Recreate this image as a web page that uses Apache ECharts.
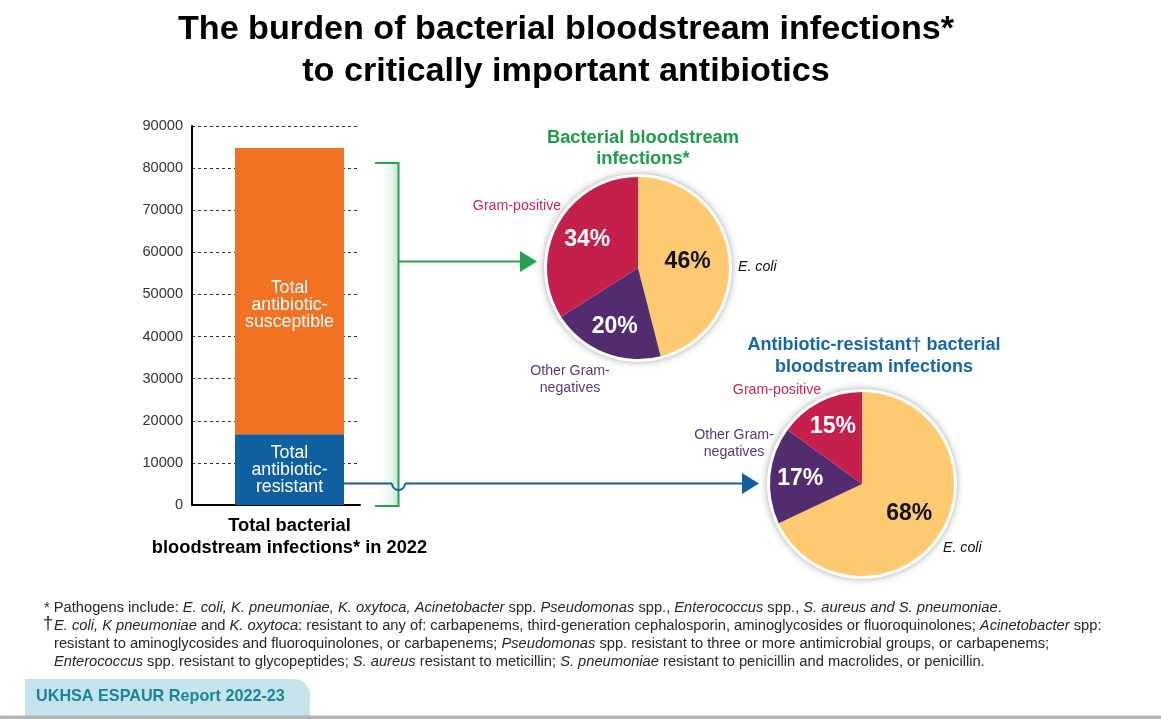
<!DOCTYPE html>
<html>
<head>
<meta charset="utf-8">
<script src="https://cdn.jsdelivr.net/npm/echarts@6/dist/echarts.min.js"></script>
<style>
html,body{margin:0;padding:0;background:#fff;}
#chart{width:1161px;height:719px;}
</style>
</head>
<body>
<div id="chart"></div>
<script>
// ---- data ----
const categories = ['Total bacterial\nbloodstream infections* in 2022'];
const resistantCount = [16800];
const susceptibleCount = [68000];
const barLabels = ['Total\nantibiotic-\nresistant', 'Total\nantibiotic-\nsusceptible'];
const yMin = 0, yMax = 90000, yStep = 10000;
const pieNames = ['E. coli', 'Other Gram-negatives', 'Gram-positive'];
const allBsiPct = [46, 20, 34];
const resistantBsiPct = [68, 17, 15];
const titleMain = 'The burden of bacterial bloodstream infections*\nto critically important antibiotics';
const titlePie1 = 'Bacterial bloodstream\ninfections*';
const titlePie2 = 'Antibiotic-resistant\u2020 bacterial\nbloodstream infections';

// ---- style ----
const FONT = "'Liberation Sans', Arial, Helvetica, sans-serif";
const C = {orange:'#F07222', blue:'#0F5FA1', yellow:'#FDC971', crimson:'#C51F4B', purple:'#522C6F',
  green:'#25A152', greenTitle:'#1E9B4B', blueTitle:'#1766A8', gpText:'#C8264F', ogText:'#5A3878'};
const sliceColors = [C.yellow, C.purple, C.crimson];
const pctColors = ['#111', '#fff', '#fff'];
const pie1 = {cx:638, cy:268, r:91, labelR:[47, 60, 55]};
const pie2 = {cx:862, cy:484, r:92, labelR:[53, 59, 61]};

const chart = echarts.init(document.getElementById('chart'), null, {renderer:'canvas'});

function midAngles(vals){
  const tot = vals.reduce((a,b)=>a+b,0); let acc = 0;
  return vals.map(v => { const m = (acc + v/2)/tot*2*Math.PI; acc += v; return m; });
}
function pieSeries(pie, vals){
  const mids = midAngles(vals);
  return [
    {type:'pie', silent:true, center:[pie.cx,pie.cy], radius:[0,pie.r+3], z:1,
     label:{show:false}, labelLine:{show:false},
     itemStyle:{color:'#fff', shadowBlur:7, shadowColor:'rgba(0,0,0,0.35)'},
     data:[{value:1, name:'bg'}]},
    {type:'pie', silent:true, center:[pie.cx,pie.cy], radius:[0,pie.r], startAngle:90, clockwise:true, z:2,
     labelLine:{show:false},
     label:{show:true, position:'inside', fontFamily:FONT, fontSize:23, fontWeight:'bold',
            formatter: p => p.value + '%'},
     labelLayout: p => {
       const i = p.dataIndex, d = pie.labelR[i] - pie.r/2;
       return {dx: d*Math.sin(mids[i]), dy: -d*Math.cos(mids[i])};
     },
     data: vals.map((v,i)=>({value:v, name:pieNames[i], itemStyle:{color:sliceColors[i]},
        label:{color:pctColors[i]}}))}
  ];
}

const FN_SIZE = 14.7;
function fn(x, y, text, extra){
  return {type:'text', x:x, y:y, style:Object.assign({text:text, fontFamily:FONT, fontSize:FN_SIZE, fill:'#262626',
    verticalAlign:'middle', rich:{i:{fontStyle:'italic', fontFamily:FONT, fontSize:FN_SIZE, fill:'#262626'}}}, extra||{})};
}
function txt(x, y, text, opts){
  return {type:'text', x:x, y:y, style:Object.assign({text:text, fontFamily:FONT, fontSize:14.2,
    align:'center', verticalAlign:'middle', lineHeight:17}, opts||{})};
}

const option = {
  backgroundColor:'#fff',
  animation:false,
  title:[
    {text:titlePie1, left:638, top:122, textAlign:'center',
     textStyle:{fontFamily:FONT, fontSize:18.3, fontWeight:'bold', color:C.greenTitle, lineHeight:21}},
    {text:titlePie2, left:869, top:329, textAlign:'center',
     textStyle:{fontFamily:FONT, fontSize:18, fontWeight:'bold', color:C.blueTitle, lineHeight:22}}
  ],
  grid:[
    {left:192, top:126, width:168, height:379},
    {left:235, top:126, width:109, height:379}
  ],
  xAxis:[
    {gridIndex:0, type:'category', data:[''], axisLine:{show:true, lineStyle:{color:'#000', width:2}},
     axisTick:{show:false}, axisLabel:{show:false}},
    {gridIndex:1, type:'category', data:categories, axisLine:{show:false}, axisTick:{show:false},
     axisLabel:{show:true, margin:10, fontFamily:FONT, fontSize:18.3, fontWeight:'bold', color:'#000', lineHeight:22}}
  ],
  yAxis:[
    {gridIndex:0, type:'value', min:yMin, max:yMax, interval:yStep,
     axisLine:{show:true, lineStyle:{color:'#000', width:2}}, axisTick:{show:false},
     axisLabel:{margin:9, fontFamily:FONT, fontSize:14.6, color:'#333', formatter: v => String(v)},
     splitLine:{show:true, lineStyle:{color:'#333', type:[3,3], width:1}}},
    {gridIndex:1, type:'value', min:yMin, max:yMax, interval:yStep, show:false, splitLine:{show:false}}
  ],
  series:[
    {type:'bar', xAxisIndex:0, yAxisIndex:0, data:[0], silent:true, itemStyle:{color:'transparent'}},
    {type:'bar', name:'resistant', xAxisIndex:1, yAxisIndex:1, stack:'t', barWidth:'100%', silent:true, z:3,
     data:resistantCount, itemStyle:{color:C.blue},
     label:{show:true, position:'inside', formatter:barLabels[0], color:'#fff', fontFamily:FONT, fontSize:17.8, lineHeight:17}},
    {type:'bar', name:'susceptible', xAxisIndex:1, yAxisIndex:1, stack:'t', barWidth:'100%', silent:true, z:3,
     data:susceptibleCount, itemStyle:{color:C.orange},
     label:{show:true, position:'inside', offset:[0,14], formatter:barLabels[1], color:'#fff', fontFamily:FONT, fontSize:17.8, lineHeight:17}},
    ...pieSeries(pie1, allBsiPct),
    ...pieSeries(pie2, resistantBsiPct)
  ],
  graphic:[
    // main title
    {type:'text', x:566, y:51, scaleX:1.035, style:{text:titleMain, fontFamily:FONT, fontSize:33, fontWeight:'bold',
      fill:'#000', align:'center', verticalAlign:'middle', lineHeight:41.5}},
    // bracket shading
    {type:'rect', shape:{x:375, y:163, width:23, height:343}, z:1,
     style:{fill:new echarts.graphic.LinearGradient(0,0,1,0,[{offset:0,color:'rgba(255,255,255,0)'},{offset:1,color:'#cce8d4'}])}},
    // green bracket
    {type:'polyline', z:5, shape:{points:[[375,163],[398.5,163],[398.5,506],[375,506]]},
     style:{stroke:C.green, lineWidth:2, fill:null}},
    {type:'line', z:5, shape:{x1:398.5, y1:261.5, x2:522, y2:261.5}, style:{stroke:C.green, lineWidth:2}},
    {type:'polygon', z:5, shape:{points:[[520,251],[537,261.5],[520,272]]}, style:{fill:C.green}},
    // blue connector with hop
    {type:'line', z:6, shape:{x1:344, y1:483.5, x2:392, y2:483.5}, style:{stroke:C.blue, lineWidth:2}},
    {type:'arc', z:6, shape:{cx:398.5, cy:483.5, r:6.5, startAngle:Math.PI, endAngle:0, clockwise:false},
     style:{stroke:C.blue, lineWidth:2, fill:null}},
    {type:'line', z:6, shape:{x1:405, y1:483.5, x2:744, y2:483.5}, style:{stroke:C.blue, lineWidth:2}},
    {type:'polygon', z:6, shape:{points:[[742,473],[759,483.5],[742,494]]}, style:{fill:C.blue}},
    // pie outer labels
    txt(517, 206, 'Gram-positive', {fill:C.gpText}),
    txt(738, 267, 'E. coli', {fill:'#111', fontStyle:'italic', align:'left'}),
    txt(570, 380, 'Other Gram-\nnegatives', {fill:C.ogText}),
    txt(777, 390, 'Gram-positive', {fill:C.gpText}),
    txt(734, 444, 'Other Gram-\nnegatives', {fill:C.ogText}),
    txt(943, 548, 'E. coli', {fill:'#111', fontStyle:'italic', align:'left'}),
    // footnotes
    fn(44, 608, '* Pathogens include: {i|E. coli, K. pneumoniae, K. oxytoca, Acinetobacter} spp. {i|Pseudomonas} spp., {i|Enterococcus} spp., {i|S. aureus and S. pneumoniae}.'),
    fn(43, 624, '\u2020', {fontSize:18}),
    fn(54, 626, '{i|E. coli, K pneumoniae} and {i|K. oxytoca}: resistant to any of: carbapenems, third-generation cephalosporin, aminoglycosides or fluoroquinolones; {i|Acinetobacter} spp:'),
    fn(54, 644, 'resistant to aminoglycosides and fluoroquinolones, or carbapenems; {i|Pseudomonas} spp. resistant to three or more antimicrobial groups, or carbapenems;'),
    fn(54, 662, '{i|Enterococcus} spp. resistant to glycopeptides; {i|S. aureus} resistant to meticillin; {i|S. pneumoniae} resistant to penicillin and macrolides, or penicillin.'),
    // badge
    {type:'rect', shape:{x:25, y:679, width:285, height:40, r:[0,16,0,0]}, style:{fill:'#C6E3EC'}},
    {type:'text', x:36, y:697, style:{text:'UKHSA ESPAUR Report 2022-23', fontFamily:FONT, fontSize:16.2, fontWeight:'bold',
      fill:'#1A8597', verticalAlign:'middle'}},
    {type:'rect', shape:{x:0, y:715.5, width:1161, height:3.5}, style:{fill:'#B3B3B3'}}
  ]
};
chart.setOption(option);
</script>
</body>
</html>
